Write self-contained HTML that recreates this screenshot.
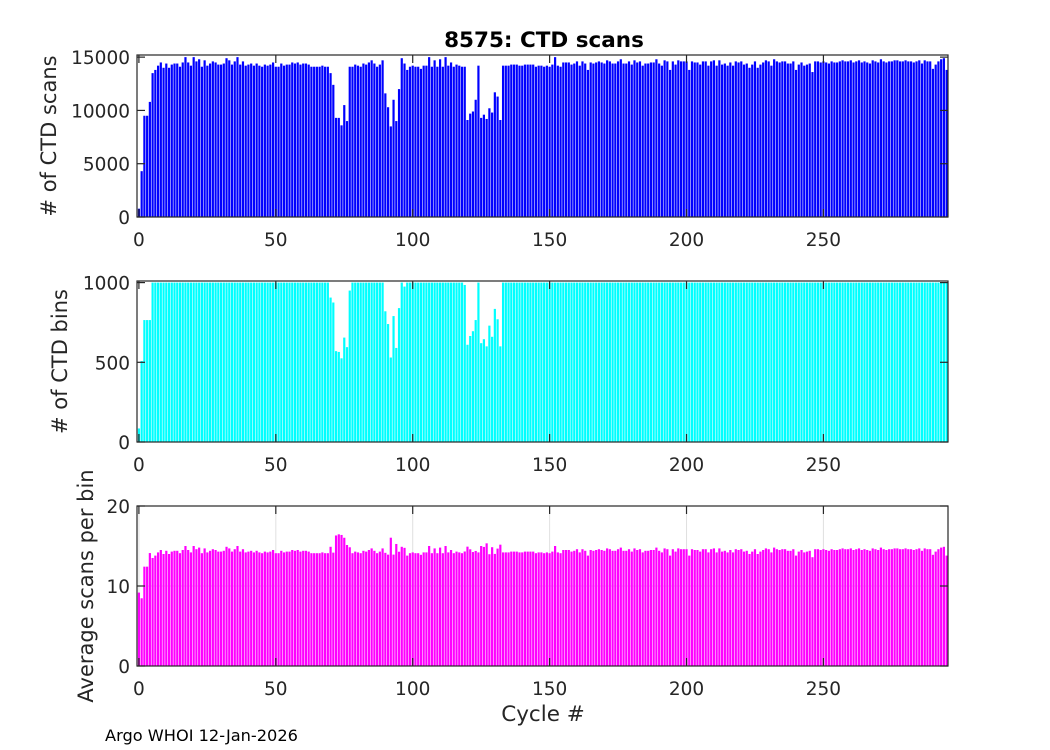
<!DOCTYPE html>
<html><head><meta charset="utf-8"><style>
body{margin:0;background:#fff;}
svg{display:block;font-family:"DejaVu Sans","Liberation Sans",sans-serif;}
</style></head><body>
<svg id="chart" width="1050" height="750" viewBox="0 0 1050 750" xmlns="http://www.w3.org/2000/svg">
<rect width="1050" height="750" fill="#fff"/>
<text x="544" y="47" text-anchor="middle" font-size="21.5" font-weight="bold">8575: CTD scans</text>
<text x="543" y="721" text-anchor="middle" font-size="21.5" fill="#262626">Cycle #</text>
<text x="105" y="741" font-size="16.2">Argo WHOI 12-Jan-2026</text>
<g id="plots"></g>
</svg>
<script>
const cycles = [];
for (let i = 0; i <= 295; i++) cycles.push(i);
const scans = [
780,4300,9500,9500,10800,13500,13800,14200,14500,14000,
14400,14000,14300,14400,14400,14100,14500,15000,14500,14200,
15000,14600,14800,14100,14700,14200,14400,14600,14500,14300,
14300,14400,14900,14700,14300,14600,15000,14300,14600,14200,
14300,14400,14200,14400,14200,14100,14300,14200,14300,14500,
14100,14100,14400,14200,14300,14300,14500,14400,14500,14300,
14400,14400,14300,14100,14100,14100,14100,14200,14100,14100,
13500,12400,9300,9300,8600,10500,9000,14100,14100,14300,
14200,14100,14400,14300,14500,14700,14400,14100,14300,14700,
11600,10300,8500,11000,9000,12000,14900,14400,13800,14100,
14200,14100,14100,13900,14200,14200,15000,14100,14700,14100,
14800,14100,15000,14200,14500,14100,14300,14200,14100,14100,
9100,9700,9900,11000,14200,9300,9600,9200,10200,9800,
11700,11300,9100,14200,14200,14200,14300,14300,14300,14200,
14200,14300,14300,14300,14300,14100,14200,14200,14100,14200,
14100,14300,15000,14200,14100,14500,14500,14500,14300,14400,
14600,14200,14600,14400,13800,14500,14400,14500,14600,14500,
14400,14700,14600,14400,14400,14600,14800,14400,14400,14600,
14300,14700,14500,14600,14200,14400,14400,14500,14500,14800,
14400,14200,14700,14600,13800,14600,14300,14700,14600,14600,
14600,13800,14600,14500,14500,14300,14600,14600,14200,14600,
14700,14200,14700,14300,14400,14200,14500,14200,14600,14500,
14600,14300,14400,14000,14300,14600,14000,14300,14500,14700,
14600,14200,14800,14600,14500,14600,14600,14400,14400,14600,
13800,14300,14500,14200,14300,14400,13600,14600,14600,14500,
14600,14500,14400,14600,14500,14500,14600,14700,14600,14600,
14700,14500,14600,14700,14500,14600,14500,14400,14700,14600,
14500,14800,14600,14500,14600,14600,14700,14700,14600,14600,
14700,14600,14600,14500,14600,14700,14400,14700,14600,14600,
13900,14300,14600,14800,14900,13800];
const bins = [
85,508,765,765,765,1000,1000,1000,1000,1000,
1000,1000,1000,1000,1000,1000,1000,1000,1000,1000,
1000,1000,1000,1000,1000,1000,1000,1000,1000,1000,
1000,1000,1000,1000,1000,1000,1000,1000,1000,1000,
1000,1000,1000,1000,1000,1000,1000,1000,1000,1000,
1000,1000,1000,1000,1000,1000,1000,1000,1000,1000,
1000,1000,1000,1000,1000,1000,1000,1000,1000,1000,
906,875,570,565,525,655,595,950,1000,1000,
1000,1000,1000,1000,1000,1000,1000,1000,1000,1000,
820,740,530,790,590,840,1000,975,1000,1000,
1000,1000,1000,1000,1000,1000,1000,1000,1000,1000,
1000,1000,1000,1000,1000,1000,1000,1000,1000,985,
610,665,695,765,1000,620,645,600,730,660,
835,770,600,1000,1000,1000,1000,1000,1000,1000,
1000,1000,1000,1000,1000,1000,1000,1000,1000,1000,
1000,1000,1000,1000,1000,1000,1000,1000,1000,1000,
1000,1000,1000,1000,1000,1000,1000,1000,1000,1000,
1000,1000,1000,1000,1000,1000,1000,1000,1000,1000,
1000,1000,1000,1000,1000,1000,1000,1000,1000,1000,
1000,1000,1000,1000,1000,1000,1000,1000,1000,1000,
1000,1000,1000,1000,1000,1000,1000,1000,1000,1000,
1000,1000,1000,1000,1000,1000,1000,1000,1000,1000,
1000,1000,1000,1000,1000,1000,1000,1000,1000,1000,
1000,1000,1000,1000,1000,1000,1000,1000,1000,1000,
1000,1000,1000,1000,1000,1000,1000,1000,1000,1000,
1000,1000,1000,1000,1000,1000,1000,1000,1000,1000,
1000,1000,1000,1000,1000,1000,1000,1000,1000,1000,
1000,1000,1000,1000,1000,1000,1000,1000,1000,1000,
1000,1000,1000,1000,1000,1000,1000,1000,1000,1000,
1000,1000,1000,1000,1000,1000];
const avgPerBin = scans.map((s, i) => bins[i] > 0 ? s / bins[i] : 0);
const xTicks = [0, 50, 100, 150, 200, 250];
const yTicks1 = [0, 5000, 10000, 15000];
const yTicks2 = [0, 500, 1000];
const yTicks3 = [0, 10, 20];

const NS = 'http://www.w3.org/2000/svg';
const root = document.getElementById('plots');
const X0 = 137, X1 = 948, XMIN = -0.7, XMAX = 295.5;
const xs = v => X0 + (v - XMIN) / (XMAX - XMIN) * (X1 - X0);
function mk(tag, attrs, parent) {
  const e = document.createElementNS(NS, tag);
  for (const k in attrs) e.setAttribute(k, attrs[k]);
  parent.appendChild(e);
  return e;
}
function panel(name, top, bottom, ymax, vals, color, yticks, ylabel, ylx, grid) {
  const g = mk('g', {}, root);
  
  
  const ys = v => bottom - v / ymax * (bottom - top);
  if (grid) {
    xTicks.forEach(t => { const l = mk('line', {x1: xs(t), x2: xs(t), y1: top, y2: bottom, stroke: '#e0e0e0', 'stroke-width': 1}, g);   });
    yticks.forEach(t => { const l = mk('line', {x1: X0, x2: X1, y1: ys(t), y2: ys(t), stroke: '#e0e0e0', 'stroke-width': 1}, g);   });
  }
  const w = 0.8 * (X1 - X0) / (XMAX - XMIN);
  vals.forEach((v, i) => {
    const vv = Math.min(v, ymax);
    const r = mk('rect', {x: xs(cycles[i]) - w / 2, y: ys(vv), width: w, height: bottom - ys(vv), fill: color}, g);
    
    
  });
  const box = mk('rect', {x: X0, y: top, width: X1 - X0, height: bottom - top, fill: 'none', stroke: '#262626', 'stroke-width': 1.2}, g);
  
  
  xTicks.forEach(t => {
    mk('line', {x1: xs(t), x2: xs(t), y1: bottom, y2: bottom - 8, stroke: '#262626', 'stroke-width': 1.2}, g);
    mk('line', {x1: xs(t), x2: xs(t), y1: top, y2: top + 8, stroke: '#262626', 'stroke-width': 1.2}, g);
    const tx = mk('text', {x: xs(t), y: bottom + 29, 'text-anchor': 'middle', 'font-size': 18.5, fill: '#262626'}, g);
    tx.textContent = t;
    
    
  });
  yticks.forEach(t => {
    mk('line', {x1: X0, x2: X0 + 8, y1: ys(t), y2: ys(t), stroke: '#262626', 'stroke-width': 1.2}, g);
    mk('line', {x1: X1, x2: X1 - 8, y1: ys(t), y2: ys(t), stroke: '#262626', 'stroke-width': 1.2}, g);
    const tx = mk('text', {x: X0 - 7, y: ys(t) + 7, 'text-anchor': 'end', 'font-size': 18.5, fill: '#262626'}, g);
    tx.textContent = t;
    
    
  });
  const cy = (top + bottom) / 2;
  const lab = mk('text', {x: ylx, y: cy, 'text-anchor': 'middle', 'font-size': 21, fill: '#262626', transform: 'rotate(-90 ' + ylx + ' ' + cy + ')'}, g);
  lab.textContent = ylabel;
  
  
}
panel('scans-panel', 55, 217, 15200, scans, '#0000ff', yTicks1, '# of CTD scans', 56, false);
panel('bins-panel', 281, 442, 1010, bins, '#00ffff', yTicks2, '# of CTD bins', 67, false);
panel('avg-panel', 506, 666, 20, avgPerBin, '#ff00ff', yTicks3, 'Average scans per bin', 93, true);
</script>
</body></html>
